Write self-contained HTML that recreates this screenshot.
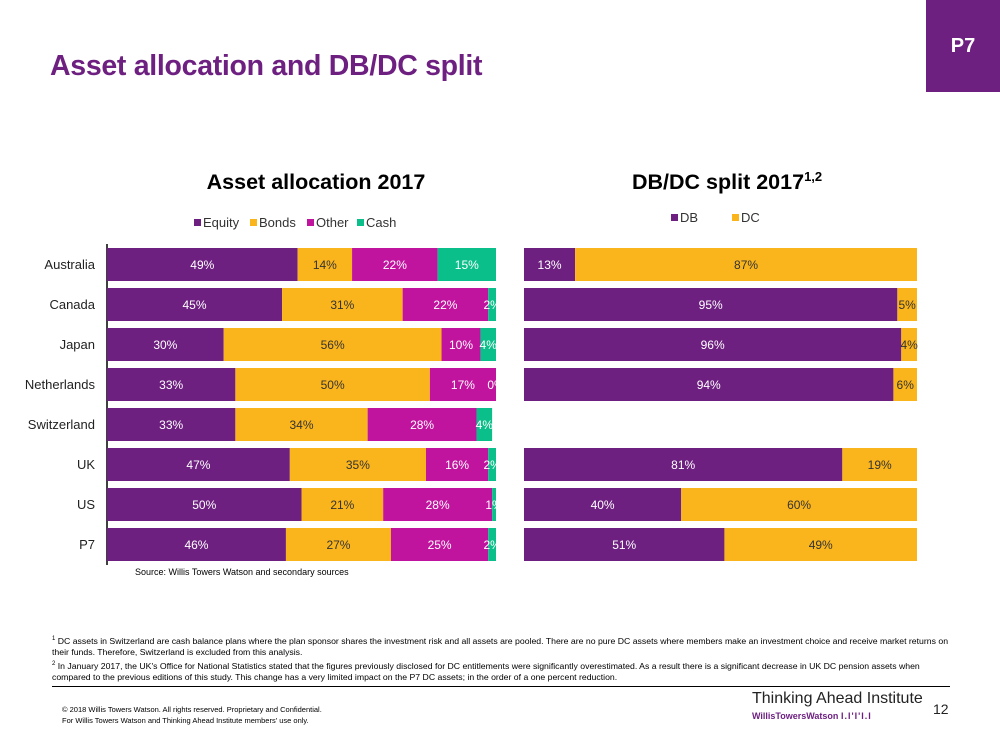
<!DOCTYPE html>
<html><head><meta charset="utf-8"><style>
body{margin:0;width:1000px;height:750px;position:relative;background:#fff;font-family:"Liberation Sans",sans-serif;overflow:hidden}
.abs{position:absolute}
</style></head><body>
<div class="abs" style="left:50px;top:50px;font-size:28.5px;font-weight:bold;color:#6e2081;letter-spacing:-0.3px">Asset allocation and DB/DC split</div>
<div class="abs" style="left:926px;top:0;width:74px;height:92px;background:#6e2081;color:#fff;font-size:20px;font-weight:bold;text-align:center;line-height:92px">P7</div>
<svg class="abs" style="left:0;top:0" width="1000" height="750" id="chart">
<text x="316" y="189" font-size="21.5" font-weight="bold" text-anchor="middle" fill="#000">Asset allocation 2017</text>
<text x="632" y="189" font-size="21.5" font-weight="bold" fill="#000">DB/DC split 2017<tspan font-size="13" dy="-8">1,2</tspan></text>
<text x="135" y="575" font-size="9" fill="#000">Source: Willis Towers Watson and secondary sources</text>
<line x1="107" y1="244" x2="107" y2="565" stroke="#000" stroke-width="1.5"/>
<g id="left"></g><g id="right"></g><g id="legend"></g>
</svg>
<div class="abs" style="left:52px;top:634px;width:900px;font-size:8.7px;line-height:11.5px;color:#000"><sup style="font-size:6px">1</sup> DC assets in Switzerland are cash balance plans where the plan sponsor shares the investment risk and all assets are pooled. There are no pure DC assets where members make an investment choice and receive market returns on their funds. Therefore, Switzerland is excluded from this analysis.<br><sup style="font-size:6px">2</sup> In January 2017, the UK's Office for National Statistics stated that the figures previously disclosed for DC entitlements were significantly overestimated. As a result there is a significant decrease in UK DC pension assets when compared to the previous editions of this study. This change has a very limited impact on the P7 DC assets; in the order of a one percent reduction.</div>
<div class="abs" style="left:52px;top:686px;width:898px;border-top:1.5px solid #000"></div>
<div class="abs" style="left:62px;top:704px;font-size:7.5px;line-height:11px">© 2018 Willis Towers Watson. All rights reserved. Proprietary and Confidential.<br>For Willis Towers Watson and Thinking Ahead Institute members' use only.</div>
<div class="abs" style="left:752px;top:690px;font-size:16px;color:#222">Thinking Ahead Institute</div>
<div class="abs" style="left:752px;top:711px;font-size:9px;font-weight:bold;color:#6e2081">WillisTowersWatson <span style="letter-spacing:1px">I.I'I'I.I</span></div>
<div class="abs" style="left:933px;top:701px;font-size:14px;color:#222">12</div>
<script>
const countries=["Australia","Canada","Japan","Netherlands","Switzerland","UK","US","P7"];
const equity=[49,45,30,33,33,47,50,46];
const bonds=[14,31,56,50,34,35,21,27];
const other=[22,22,10,17,28,16,28,25];
const cash=[15,2,4,0,4,2,1,2];
const db=[13,95,96,94,null,81,40,51];
const dc=[87,5,4,6,null,19,60,49];
const NS="http://www.w3.org/2000/svg";
function mk(t,a,p){const e=document.createElementNS(NS,t);for(const k in a)e.setAttribute(k,a[k]);p.appendChild(e);return e;}
const yC=i=>264+i*40;
const xL=v=>107+v*3.89, xR=v=>524+v*3.93;
const L=document.getElementById('left'),R=document.getElementById('right'),G=document.getElementById('legend');
const lser=[[equity,"#6e2081","#fff","equity"],[bonds,"#fbb51c","#333","bonds"],[other,"#c0139e","#fff","other"],[cash,"#0bbf8a","#fff","cash"]];
countries.forEach((c,i)=>{
 const t=mk('text',{x:95,y:yC(i)+5,'font-size':13,'text-anchor':'end',fill:'#222'},L);t.textContent=c;
 
 
 let acc=0;
 lser.forEach(s=>{const v=s[0][i];const r=mk('rect',{x:xL(acc),y:yC(i)-16,width:xL(acc+v)-xL(acc),height:33,fill:s[1]},L);
  
  
  const tx=mk('text',{x:(xL(acc)+xL(acc+v))/2,y:yC(i)+5,'font-size':12,'text-anchor':'middle',fill:s[2]},L);tx.textContent=v+'%';
  
  
  acc+=v;});
 if(db[i]!==null){let a=0;[[db,"#6e2081","#fff","db"],[dc,"#fbb51c","#333","dc"]].forEach(s=>{const v=s[0][i];
  const r=mk('rect',{x:xR(a),y:yC(i)-16,width:xR(a+v)-xR(a),height:33,fill:s[1]},R);
  
  
  const tx=mk('text',{x:(xR(a)+xR(a+v))/2,y:yC(i)+5,'font-size':12,'text-anchor':'middle',fill:s[2]},R);tx.textContent=v+'%';
  
  
  a+=v;});}
});
const leg=[["Equity","#6e2081",194],["Bonds","#fbb51c",250],["Other","#c0139e",307],["Cash","#0bbf8a",357],["DB","#6e2081",671],["DC","#fbb51c",732]];
leg.forEach(l=>{const yy=l[0].length==2?218:223;
 const r=mk('rect',{x:l[2],y:yy-4,width:7,height:7,fill:l[1]},G);
 
 
 const t=mk('text',{x:l[2]+9,y:yy+4,'font-size':13,fill:'#333'},G);t.textContent=l[0];
 
 });
</script>
</body></html>
